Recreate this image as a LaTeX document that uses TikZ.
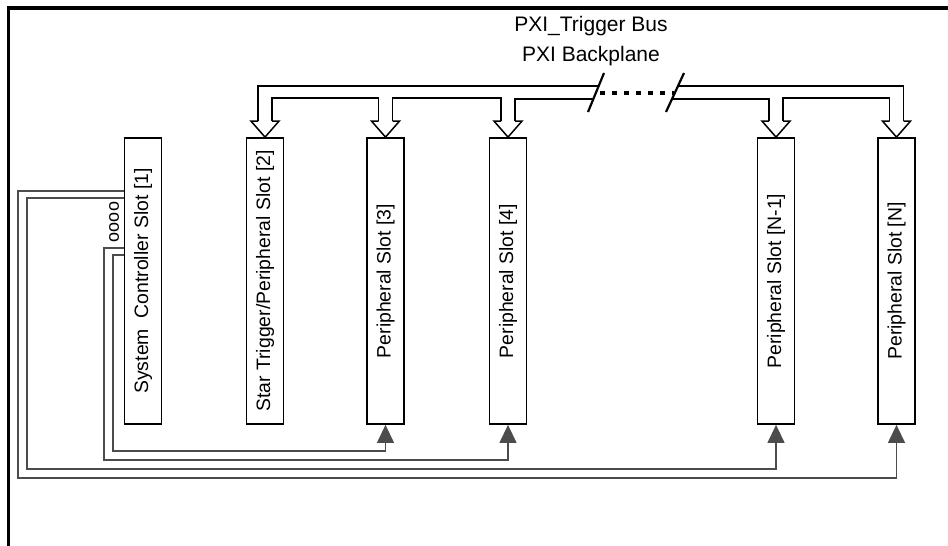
\documentclass[tikz,border=0pt]{standalone}
\usepackage{fontspec}
\setmainfont{Liberation Sans}
\usetikzlibrary{arrows.meta,calc}

\begin{document}
\begin{tikzpicture}[
    x=0.5pt, y=-0.5pt,
    slotBoxStyle/.style={draw, line width=0.9pt, minimum width=18.5pt, minimum height=143pt, inner sep=0pt, font=\fontsize{9.7}{11}\selectfont},
    busLineStyle/.style={line width=0.75pt, line join=miter},
    wireStyle/.style={black!70, line width=0.65pt, -{Triangle[width=8.5pt,length=9pt]}},
    frameStyle/.style={line width=1.6pt},
    titleStyle/.style={font=\fontsize{10.5}{12}\selectfont}
]
    \useasboundingbox (0,0) rectangle (948,546);

    % --- frame ---
    \draw[frameStyle] (8.5,546) -- (8.5,8) -- (948,8);

    % --- titles ---
    \node[titleStyle] (busTitle) at (591,26) {PXI\_Trigger Bus};
    \node[titleStyle] (backplaneTitle) at (591,56) {PXI Backplane};

    % --- slots ---
    \node[slotBoxStyle] (slot1) at (143,281) {\rotatebox{90}{System~ Controller Slot [1]}};
    \node[slotBoxStyle] (slot2) at (265,281) {\rotatebox{90}{Star Trigger/Peripheral Slot [2]}};
    \node[slotBoxStyle] (slot3) at (385.5,281) {\rotatebox{90}{Peripheral Slot [3]}};
    \node[slotBoxStyle] (slot4) at (508,281) {\rotatebox{90}{Peripheral Slot [4]}};
    \node[slotBoxStyle] (slotNm) at (776,281) {\rotatebox{90}{Peripheral Slot [N-1]}};
    \node[slotBoxStyle] (slotN) at (896.5,281) {\rotatebox{90}{Peripheral Slot [N]}};

    % connector on the controller
    \node[font=\fontsize{9}{9}\selectfont, inner sep=0pt] (ctrlPort) at (114,222) {\rotatebox{90}{oooo}};

    % --- trigger bus ---
    % outer line
    \draw[busLineStyle] ($(slot2.north)+(-7,-16)$) |- (598,86);
    \draw[busLineStyle] (678,86) -| ($(slotN.north)+(7,-16)$);
    % inner line
    \draw[busLineStyle] ($(slot2.north)+(7,-16)$) -- ++(0,-23) -| ($(slot3.north)+(-7,-16)$);
    \draw[busLineStyle] ($(slot3.north)+(7,-16)$) -- ++(0,-23) -| ($(slot4.north)+(-7,-16)$);
    \draw[busLineStyle] ($(slot4.north)+(7,-16)$) |- (593,99);
    \draw[busLineStyle] (672,99) -| ($(slotNm.north)+(-7,-16)$);
    \draw[busLineStyle] ($(slotNm.north)+(7,-16)$) -- ++(0,-23) -| ($(slotN.north)+(-7,-16)$);
    % arrow heads
    \foreach \s in {slot2,slot3,slot4,slotNm,slotN}
        \draw[busLineStyle] ($(\s.north)+(-7,-16)$) -- ++(-7,0) -- (\s.north)
            -- ++(14,-16) -- ++(-7,0);

    % break
    \draw[line width=1.1pt] (604,73) -- (588,112);
    \draw[line width=1.1pt] (684,73) -- (666,112);
    \draw[line width=2.3pt, dash pattern=on 2.5pt off 3.5pt] (600,93) -- (674,93);

    % --- trigger lines from the controller ---
    \draw[wireStyle] (slot1.west |- 0,255) -| (113,451) -| (slot3.south);
    \draw[wireStyle] (slot1.west |- 0,248) -| (104,460) -| (slot4.south);
    \draw[wireStyle] (slot1.west |- 0,198) -| (27,469) -| (slotNm.south);
    \draw[wireStyle] (slot1.west |- 0,191) -| (18,478) -| (slotN.south);
\end{tikzpicture}
\end{document}
